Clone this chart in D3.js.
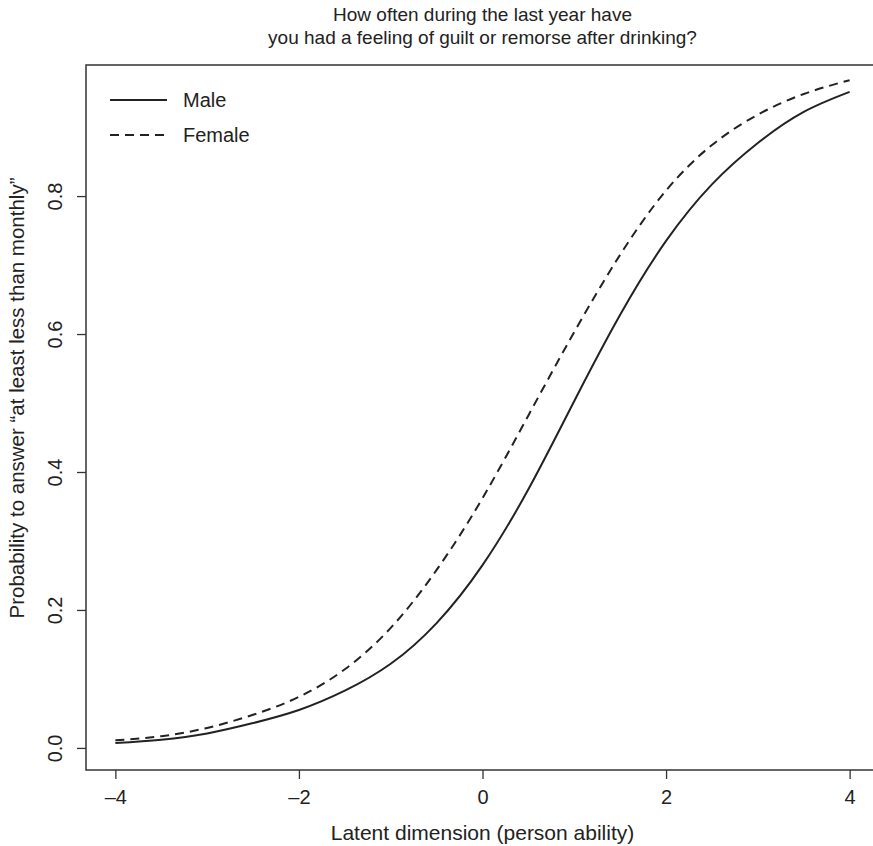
<!DOCTYPE html>
<html>
<head>
<meta charset="utf-8">
<script src="https://cdn.jsdelivr.net/npm/d3@7"></script>
<style>
  body { margin: 0; background: #fff; }
  svg { display: block; font-family: "Liberation Sans", Arial, sans-serif; }
</style>
</head>
<body>
<div id="chart"></div>
<script>
// latent dimension values (theta)
const theta = [-4, -3.5, -3, -2.5, -2, -1.5, -1, -0.5, 0, 0.5, 1, 1.5, 2, 2.5, 3, 3.5, 4];
const male = [0.007, 0.012, 0.021, 0.036, 0.055, 0.083, 0.122, 0.181, 0.265, 0.375, 0.503, 0.628, 0.735, 0.817, 0.877, 0.922, 0.951];
const female = [0.011, 0.017, 0.029, 0.048, 0.074, 0.114, 0.174, 0.258, 0.362, 0.482, 0.603, 0.715, 0.808, 0.874, 0.918, 0.948, 0.968];
const xTicks = [-4, -2, 0, 2, 4];
const yTicks = [0, 0.2, 0.4, 0.6, 0.8];
const series = [
  {name: "Male", values: male, dash: null},
  {name: "Female", values: female, dash: "9,6"},
];

const width = 873;
const height = 846;
const plotLeft = 86, plotRight = 879, plotTop = 65, plotBottom = 770;
const ink = "#222";

const svg = d3.select("#chart")
  .append("svg")
  .attr("width", width)
  .attr("height", height);

const x = d3.scaleLinear().domain([-4.32, 4.32]).range([plotLeft, plotRight]);
const y = d3.scaleLinear().domain([-0.032, 0.99]).range([plotBottom, plotTop]);

// box
svg.append("rect")
  .attr("x", plotLeft).attr("y", plotTop)
  .attr("width", plotRight - plotLeft).attr("height", plotBottom - plotTop)
  .attr("fill", "none")
  .attr("stroke", "#333")
  .attr("stroke-width", 1.5);

// x axis
const xAxis = svg.append("g")
  .attr("transform", `translate(0,${plotBottom})`)
  .call(d3.axisBottom(x).tickValues(xTicks).tickSize(9).tickPadding(11)
    .tickFormat(d => d < 0 ? "\u2013" + Math.abs(d) : d));
xAxis.select(".domain").remove();
xAxis.selectAll("line").attr("stroke", "#333").attr("stroke-width", 1.3);
xAxis.selectAll("text").attr("font-size", 20).attr("fill", ink)
  .attr("font-family", "Liberation Sans, Arial, sans-serif");

// y axis
const yAxis = svg.append("g")
  .attr("transform", `translate(${plotLeft},0)`)
  .call(d3.axisLeft(y).tickValues(yTicks).tickSize(9).tickFormat(d3.format(".1f")));
yAxis.select(".domain").remove();
yAxis.selectAll("line").attr("stroke", "#333").attr("stroke-width", 1.3);
yAxis.selectAll("text")
  .attr("font-size", 20).attr("fill", ink)
  .attr("font-family", "Liberation Sans, Arial, sans-serif")
  .attr("text-anchor", "middle")
  .attr("x", null)
  .attr("transform", "translate(-31,0) rotate(-90)")
  .attr("dy", "0.35em");

// curves
const line = d3.line()
  .x((d, i) => x(theta[i]))
  .y(d => y(d))
  .curve(d3.curveNatural);

svg.append("g")
  .selectAll("path")
  .data(series)
  .join("path")
  .attr("fill", "none")
  .attr("stroke", ink)
  .attr("stroke-width", 2)
  .attr("stroke-dasharray", d => d.dash)
  .attr("d", d => line(d.values));

// legend
const legend = svg.append("g")
  .selectAll("g")
  .data(series)
  .join("g")
  .attr("transform", (d, i) => `translate(110,${100 + i * 35})`);
legend.append("line")
  .attr("x1", 0).attr("x2", 57)
  .attr("stroke", ink).attr("stroke-width", 2)
  .attr("stroke-dasharray", d => d.dash);
legend.append("text")
  .attr("x", 73).attr("dy", "0.35em")
  .attr("font-size", 20).attr("fill", ink)
  .text(d => d.name);

// titles
const cx = (plotLeft + plotRight) / 2;
svg.append("text")
  .attr("x", cx).attr("y", 21)
  .attr("text-anchor", "middle").attr("font-size", 19).attr("fill", ink)
  .text("How often during the last year have");
svg.append("text")
  .attr("x", cx).attr("y", 44)
  .attr("text-anchor", "middle").attr("font-size", 19).attr("fill", ink)
  .text("you had a feeling of guilt or remorse after drinking?");

svg.append("text")
  .attr("x", cx).attr("y", 840)
  .attr("text-anchor", "middle").attr("font-size", 21).attr("fill", ink)
  .text("Latent dimension (person ability)");

svg.append("text")
  .attr("transform", "translate(24,398) rotate(-90)")
  .attr("text-anchor", "middle").attr("font-size", 20.5).attr("fill", ink)
  .text("Probability to answer \u201cat least less than monthly\u201d");
</script>
</body>
</html>
